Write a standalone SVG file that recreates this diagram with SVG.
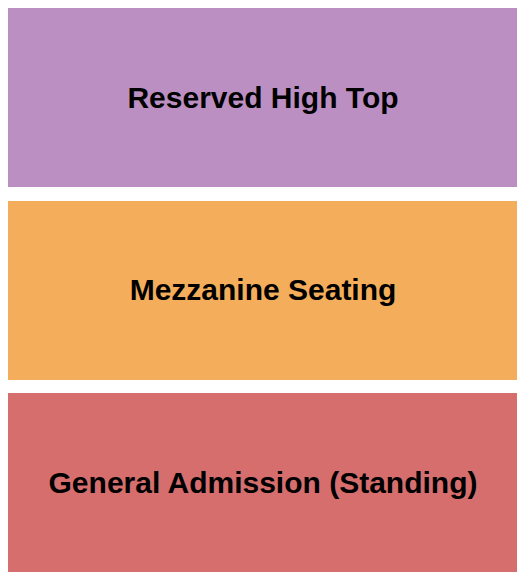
<svg xmlns="http://www.w3.org/2000/svg" width="525" height="580" viewBox="0 0 525 580">
<style>
.t{font-family:"Liberation Sans",Arial,sans-serif;font-weight:bold;font-size:30px;fill:#000;text-anchor:middle}
</style>
<rect width="525" height="580" fill="#fff"/>
<g id="reserved-high-top">
<rect x="8" y="8" width="509" height="179" fill="#BC8FC3"/>
<text class="t" x="263" y="108">Reserved High Top</text>
</g>
<g id="mezzanine-seating">
<rect x="8" y="201" width="509" height="179" fill="#F4AD5A"/>
<text class="t" x="263" y="300">Mezzanine Seating</text>
</g>
<g id="general-admission">
<rect x="8" y="393" width="509" height="179" fill="#D76E6E"/>
<text class="t" x="263" y="493">General Admission (Standing)</text>
</g>
<g id="connectors"/>
</svg>
